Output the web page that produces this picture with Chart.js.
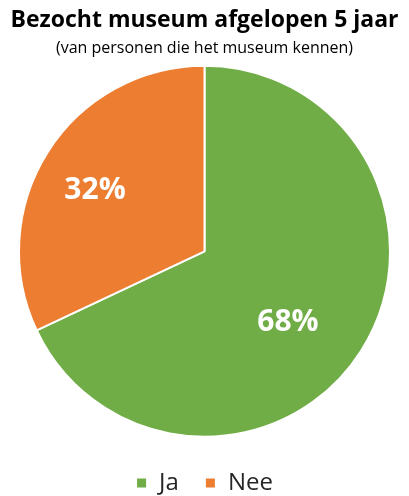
<!DOCTYPE html>
<html>
<head>
<meta charset="utf-8">
<script src="https://cdn.jsdelivr.net/npm/chart.js@4/dist/chart.umd.min.js"></script>
<style>
  html, body { margin: 0; padding: 0; background: #fff; }
  #wrap { width: 409px; height: 496px; }
</style>
</head>
<body>
<div id="wrap"><canvas id="pie"></canvas></div>
<script>
// gegevens uit de grafiek
const categorieen = ['Ja', 'Nee'];
const percentages = [68, 32];
const kleuren = ['#70AD47', '#ED7D31'];

// labels met het percentage in elk taartpunt
// (afstand tot het midden als fractie van de straal, plus kleine verschuiving zoals in Excel)
const percentLabels = {
    id: 'percentLabels',
    afterDatasetsDraw(chart, args, opts) {
        const ctx = chart.ctx;
        const meta = chart.getDatasetMeta(0);
        ctx.save();
        ctx.fillStyle = '#ffffff';
        ctx.font = 'bold 30px "Open Sans", sans-serif';
        ctx.textAlign = 'center';
        ctx.textBaseline = 'middle';
        meta.data.forEach((arc, i) => {
            const { x, y, startAngle, endAngle, outerRadius } = arc.getProps(['x', 'y', 'startAngle', 'endAngle', 'outerRadius'], true);
            const mid = (startAngle + endAngle) / 2;
            const r = outerRadius * opts.afstand[i];
            const [dx, dy] = opts.verschuiving[i];
            ctx.fillText(percentages[i] + '%', x + Math.cos(mid) * r + dx, y + Math.sin(mid) * r + dy);
        });
        ctx.restore();
    }
};

new Chart(document.getElementById('pie'), {
    type: 'pie',
    data: {
        labels: categorieen,
        datasets: [{
            data: percentages,
            backgroundColor: kleuren,
            borderColor: '#ffffff',
            borderWidth: 2
        }]
    },
    options: {
        responsive: true,
        maintainAspectRatio: false,
        animation: false,
        layout: { padding: { top: 0, bottom: -9, left: 0, right: 0 } },
        plugins: {
            title: {
                display: true,
                text: 'Bezocht museum afgelopen 5 jaar',
                color: '#000000',
                font: { family: '"Open Sans", sans-serif', size: 23, weight: 'bold' },
                padding: { top: 7, bottom: 4 }
            },
            subtitle: {
                display: true,
                text: '(van personen die het museum kennen)',
                color: '#000000',
                font: { family: '"Open Sans", sans-serif', size: 16 },
                padding: { top: 0, bottom: 7 }
            },
            legend: {
                position: 'bottom',
                title: {
                    display: true,
                    text: ' ',
                    font: { size: 6 },
                    padding: 0
                },
                labels: {
                    color: '#262626',
                    boxWidth: 11,
                    boxHeight: 11,
                    padding: 26,
                    font: { family: '"Open Sans", sans-serif', size: 24 }
                }
            },
            percentLabels: {
                afstand: [0.59, 0.68],
                verschuiving: [[-9, 13], [-3, 7]]
            },
            tooltip: { enabled: false }
        }
    },
    plugins: [percentLabels]
});
</script>
</body>
</html>
